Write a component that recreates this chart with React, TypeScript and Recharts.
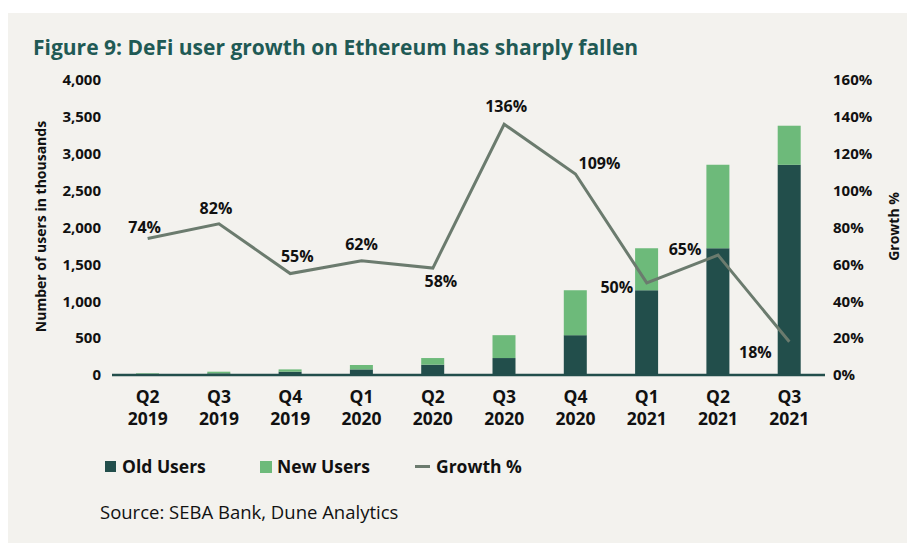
import React from 'react';
import { ComposedChart, Bar, Line, XAxis, YAxis, LabelList } from 'recharts';

const categories = ['Q2 2019', 'Q3 2019', 'Q4 2019', 'Q1 2020', 'Q2 2020', 'Q3 2020', 'Q4 2020', 'Q1 2021', 'Q2 2021', 'Q3 2021'];
const oldUsers = [12, 22, 45, 76, 140, 230, 540, 1150, 1720, 2850];
const newUsers = [10, 23, 31, 60, 90, 310, 610, 570, 1130, 530];
const growthPct = [74, 82, 55, 62, 58, 136, 109, 50, 65, 18];
const leftTicks = [0, 500, 1000, 1500, 2000, 2500, 3000, 3500, 4000];
const rightTicks = [0, 20, 40, 60, 80, 100, 120, 140, 160];

// label placement offsets (style)
const labelDx = [-3, -3, 7, 0, 8, 2, 24, -30, -33, -34];
const labelDy = [-12, -16, -18, -17, 13, -18, -11, 4, -6, 10];

const DARK = '#224e4b';
const LIGHT = '#6dba7a';
const LINE = '#6b7b6e';
const BG = '#f3f2ee';
const FONT = '"Open Sans", "Noto Sans", sans-serif';

const data = categories.map((c, i) => ({
  cat: c,
  old: oldUsers[i],
  neu: newUsers[i],
  growth: growthPct[i],
}));

const XTick = (props: any) => {
  const { x, y, payload } = props;
  const [q, yr] = String(payload.value).split(' ');
  return (
    <g>
      <text x={x} y={y + 13} textAnchor="middle" dominantBaseline="central" fontFamily={FONT} fontWeight={700} fontSize={17.5} fill="#111">{q}</text>
      <text x={x} y={y + 35} textAnchor="middle" dominantBaseline="central" fontFamily={FONT} fontWeight={700} fontSize={17.5} fill="#111">{yr}</text>
    </g>
  );
};

const GrowthLabel = (props: any) => {
  const { x, y, value, index } = props;
  return (
    <text x={x + labelDx[index]} y={y + labelDy[index]} textAnchor="middle" dominantBaseline="central" fontFamily={FONT} fontWeight={700} fontSize={16} fill="#111">
      {value}%
    </text>
  );
};

const LeftAxisLabel = (props: any) => {
  const vb = props.viewBox || {};
  const cx = (vb.x || 0) + 32;
  const cy = (vb.y || 0) + (vb.height || 0) / 2 - 1;
  return (
    <text x={cx} y={cy} transform={`rotate(-90, ${cx}, ${cy})`} textAnchor="middle" dominantBaseline="central" fontFamily={FONT} fontWeight={700} fontSize={14} fill="#111">
      Number of users in thousands
    </text>
  );
};

const RightAxisLabel = (props: any) => {
  const vb = props.viewBox || {};
  const cx = (vb.x || 0) + 68;
  const cy = (vb.y || 0) + (vb.height || 0) / 2 - 1;
  return (
    <text x={cx} y={cy} transform={`rotate(-90, ${cx}, ${cy})`} textAnchor="middle" dominantBaseline="central" fontFamily={FONT} fontWeight={700} fontSize={14} fill="#111">
      Growth %
    </text>
  );
};

const tickStyle = { fontFamily: FONT, fontWeight: 700, fontSize: 15, fill: '#111' };
const legendText: React.CSSProperties = { position: 'absolute', top: 0, fontSize: 17.5, fontWeight: 700, color: '#111', whiteSpace: 'nowrap', lineHeight: '24px' };

export default function App() {
  return (
    <div style={{ position: 'relative', width: 907, height: 530, marginTop: 5, background: BG, fontFamily: FONT }}>
      <div style={{ position: 'absolute', left: 25, top: 20, fontSize: 21, fontWeight: 700, color: '#1f5a55', whiteSpace: 'nowrap', lineHeight: '28px' }}>
        Figure 9: DeFi user growth on Ethereum has sharply fallen
      </div>
      <div style={{ position: 'absolute', left: 0, top: 0 }}>
        <ComposedChart width={907} height={530} data={data} margin={{ top: 67, right: 0, bottom: 108, left: 0 }}>
          <XAxis dataKey="cat" xAxisId={0} interval={0} tickLine={false} axisLine={{ stroke: DARK, strokeWidth: 2.5 }} tick={<XTick />} height={60} />
          <YAxis yAxisId="left" orientation="left" width={104} domain={[0, 4000]} ticks={leftTicks} interval={0} tickLine={false} axisLine={false} tickMargin={5}
            tick={tickStyle} tickFormatter={(v: number) => v.toLocaleString('en-US')} label={<LeftAxisLabel />} />
          <YAxis yAxisId="right" orientation="right" width={90} domain={[0, 160]} ticks={rightTicks} interval={0} tickLine={false} axisLine={false}
            tick={{ ...tickStyle, textAnchor: 'start' }} tickFormatter={(v: number) => `${v}%`} label={<RightAxisLabel />} />
          <Bar yAxisId="left" dataKey="old" stackId="a" fill={DARK} barSize={23} isAnimationActive={false} />
          <Bar yAxisId="left" dataKey="neu" stackId="a" fill={LIGHT} barSize={23} isAnimationActive={false} />
          <Line yAxisId="right" dataKey="growth" stroke={LINE} strokeWidth={3} dot={false} isAnimationActive={false} strokeLinejoin="miter">
            <LabelList dataKey="growth" content={<GrowthLabel />} />
          </Line>
        </ComposedChart>
      </div>
      <div style={{ position: 'absolute', left: 0, top: 441, width: 907, height: 24 }}>
        <span style={{ position: 'absolute', left: 97, top: 7, width: 11, height: 11, background: DARK }} />
        <span style={{ ...legendText, left: 114 }}>Old Users</span>
        <span style={{ position: 'absolute', left: 252, top: 7, width: 12, height: 12, background: LIGHT }} />
        <span style={{ ...legendText, left: 269 }}>New Users</span>
        <span style={{ position: 'absolute', left: 407, top: 11, width: 15, height: 3, background: LINE }} />
        <span style={{ ...legendText, left: 428 }}>Growth %</span>
      </div>
      <div style={{ position: 'absolute', left: 92, top: 486, fontSize: 18.5, color: '#111', whiteSpace: 'nowrap', lineHeight: '26px' }}>
        Source: SEBA Bank, Dune Analytics
      </div>
    </div>
  );
}
